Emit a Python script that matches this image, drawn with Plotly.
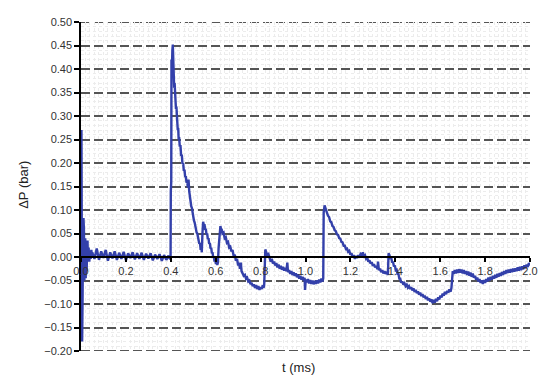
import plotly.graph_objects as go

# ---- data ----
t_ring = [0.002, 0.004, 0.005, 0.007, 0.009, 0.011, 0.013, 0.015, 0.017, 0.019, 0.021, 0.023,
          0.025, 0.027, 0.029, 0.031, 0.034, 0.037, 0.040, 0.043, 0.046, 0.049]
dp_ring = [0.270, 0.120, -0.180, -0.090, 0.030, 0.083, 0.060, -0.050, -0.010, 0.040, -0.045, 0.020,
           -0.030, 0.010, 0.035, -0.005, 0.020, -0.010, 0.012, -0.004, 0.015, 0.000]

t_base = [0.05, 0.06, 0.07, 0.08, 0.09, 0.10, 0.11, 0.12, 0.13, 0.14, 0.15, 0.16, 0.17, 0.18,
          0.19, 0.20, 0.21, 0.22, 0.23, 0.24, 0.25, 0.26, 0.27, 0.28, 0.29, 0.30, 0.31, 0.32,
          0.33, 0.34, 0.35, 0.36, 0.37, 0.38, 0.39, 0.397]
dp_base = [0.010, -0.004, 0.018, -0.006, 0.012, -0.002, 0.015, -0.008, 0.010, -0.003, 0.012,
           -0.006, 0.009, -0.004, 0.011, -0.007, 0.008, -0.002, 0.010, -0.005, 0.008, -0.004,
           0.009, -0.006, 0.007, -0.003, 0.008, -0.007, 0.005, -0.004, 0.006, -0.008, 0.004,
           -0.006, 0.003, -0.005]

t_peak = [0.399, 0.400, 0.402, 0.403, 0.405, 0.407, 0.409, 0.411, 0.413, 0.415, 0.417, 0.419,
          0.421, 0.423, 0.425, 0.427, 0.429, 0.431, 0.433, 0.435, 0.437, 0.440, 0.443, 0.446,
          0.449, 0.452, 0.455, 0.458, 0.461, 0.464, 0.467, 0.470, 0.473, 0.476, 0.479, 0.482,
          0.485, 0.488, 0.491, 0.494, 0.497, 0.500, 0.503, 0.506, 0.509, 0.512, 0.515, 0.518,
          0.521, 0.524, 0.527, 0.530, 0.533, 0.536, 0.538, 0.541, 0.544, 0.547, 0.550, 0.553,
          0.556, 0.559, 0.562, 0.565, 0.568, 0.571, 0.574, 0.577, 0.580, 0.583, 0.586, 0.589,
          0.592, 0.595, 0.598, 0.601, 0.604, 0.607, 0.610, 0.613, 0.617, 0.621, 0.624]
dp_peak = [0.000, 0.140, 0.160, 0.420, 0.400, 0.440, 0.452, 0.420, 0.380, 0.360, 0.370, 0.340,
           0.345, 0.315, 0.320, 0.295, 0.300, 0.270, 0.275, 0.250, 0.255, 0.235, 0.238, 0.215,
           0.218, 0.198, 0.200, 0.183, 0.186, 0.170, 0.172, 0.158, 0.160, 0.148, 0.165, 0.140,
           0.125, 0.118, 0.108, 0.104, 0.092, 0.088, 0.078, 0.074, 0.064, 0.062, 0.052, 0.050,
           0.040, 0.038, 0.028, 0.030, 0.015, 0.025, 0.010, 0.050, 0.075, 0.068, 0.070, 0.058,
           0.060, 0.048, 0.050, 0.038, 0.040, 0.028, 0.030, 0.018, 0.020, 0.008, 0.010, -0.002,
           0.000, -0.010, -0.006, -0.015, -0.010, -0.017, -0.012, 0.020, 0.045, 0.066, 0.058]

t_dip1 = [0.626, 0.630, 0.635, 0.640, 0.645, 0.650, 0.655, 0.660, 0.665, 0.670, 0.675, 0.680,
          0.685, 0.690, 0.695, 0.700, 0.704, 0.708, 0.712, 0.715, 0.720, 0.725, 0.730, 0.735,
          0.740, 0.745, 0.750, 0.755, 0.760, 0.765, 0.770, 0.775, 0.780, 0.785, 0.790, 0.795,
          0.800, 0.805, 0.810, 0.813]
dp_dip1 = [0.060, 0.050, 0.052, 0.040, 0.042, 0.030, 0.032, 0.020, 0.022, 0.012, 0.015, 0.002,
           0.005, -0.008, -0.004, -0.018, -0.012, -0.025, -0.012, -0.030, -0.034, -0.040, -0.038,
           -0.046, -0.044, -0.052, -0.050, -0.058, -0.055, -0.062, -0.058, -0.066, -0.060,
           -0.068, -0.062, -0.070, -0.064, -0.068, -0.060, -0.066]

t_step1 = [0.816, 0.818, 0.821, 0.825, 0.830, 0.835, 0.840, 0.845, 0.850, 0.855, 0.860, 0.865,
           0.870, 0.875, 0.880, 0.885, 0.890, 0.895, 0.900, 0.905, 0.910, 0.915, 0.919, 0.922,
           0.927, 0.932, 0.937, 0.942, 0.947, 0.952, 0.957, 0.962, 0.967, 0.972, 0.977, 0.982,
           0.987, 0.992, 0.996, 0.998, 1.001, 1.006, 1.011, 1.016, 1.021, 1.026, 1.031, 1.036,
           1.041, 1.046, 1.051, 1.056, 1.061, 1.066, 1.071, 1.076, 1.079]
dp_step1 = [-0.060, 0.005, 0.016, 0.010, 0.004, 0.006, -0.004, -0.010, -0.004, -0.014, -0.010,
            -0.018, -0.013, -0.022, -0.016, -0.025, -0.019, -0.027, -0.021, -0.029, -0.023,
            -0.030, -0.012, -0.032, -0.028, -0.036, -0.030, -0.038, -0.033, -0.040, -0.035,
            -0.043, -0.037, -0.046, -0.040, -0.048, -0.042, -0.050, -0.044, -0.070, -0.048,
            -0.054, -0.047, -0.056, -0.049, -0.057, -0.050, -0.058, -0.051, -0.057, -0.050,
            -0.056, -0.048, -0.054, -0.046, -0.052, -0.045]

t_peak2 = [1.081, 1.085, 1.090, 1.095, 1.100, 1.105, 1.110, 1.115, 1.120, 1.125, 1.130, 1.135,
           1.140, 1.145, 1.150, 1.155, 1.160, 1.165, 1.170, 1.175, 1.180, 1.185, 1.190, 1.195,
           1.200, 1.205, 1.210, 1.215, 1.220, 1.225, 1.230, 1.235, 1.240, 1.245, 1.250, 1.255,
           1.260, 1.265, 1.270, 1.275, 1.280, 1.285, 1.290, 1.295, 1.300, 1.305, 1.310, 1.315,
           1.320, 1.323, 1.327, 1.332, 1.337, 1.342, 1.347, 1.352, 1.357, 1.362, 1.367]
dp_peak2 = [0.095, 0.110, 0.100, 0.095, 0.088, 0.085, 0.076, 0.074, 0.066, 0.064, 0.057, 0.055,
            0.048, 0.047, 0.040, 0.039, 0.032, 0.031, 0.024, 0.024, 0.017, 0.018, 0.011, 0.013,
            0.005, 0.008, 0.000, 0.004, -0.004, 0.002, -0.002, 0.004, 0.000, 0.006, 0.003,
            0.010, 0.002, 0.004, -0.004, -0.002, -0.010, -0.007, -0.014, -0.011, -0.019,
            -0.015, -0.022, -0.019, -0.026, -0.010, -0.028, -0.025, -0.032, -0.028, -0.035,
            -0.030, -0.036, -0.031, -0.038]

t_tail = [1.370, 1.374, 1.378, 1.382, 1.386, 1.390, 1.394, 1.398, 1.402, 1.406, 1.410, 1.414,
          1.418, 1.422, 1.426, 1.431, 1.436, 1.441, 1.446, 1.451, 1.456, 1.461, 1.466, 1.471,
          1.476, 1.481, 1.486, 1.491, 1.496, 1.501, 1.506, 1.511, 1.516, 1.521, 1.526, 1.531,
          1.536, 1.541, 1.546, 1.551, 1.556, 1.561, 1.566, 1.571, 1.576, 1.581, 1.586, 1.591,
          1.596, 1.601, 1.606, 1.611, 1.616, 1.621, 1.626, 1.631, 1.636, 1.641, 1.646, 1.650,
          1.653, 1.656, 1.660, 1.665, 1.670, 1.675, 1.680, 1.685, 1.690, 1.695, 1.700, 1.705,
          1.710, 1.715, 1.720, 1.725, 1.730, 1.735, 1.740, 1.745, 1.750, 1.755, 1.760, 1.765,
          1.770, 1.775, 1.780, 1.785, 1.790, 1.795, 1.800, 1.805, 1.810, 1.815, 1.820, 1.825,
          1.830, 1.835, 1.840, 1.845, 1.850, 1.855, 1.860, 1.865, 1.870, 1.875, 1.880, 1.885,
          1.890, 1.895, 1.900, 1.905, 1.910, 1.915, 1.920, 1.925, 1.930, 1.935, 1.940, 1.945,
          1.950, 1.955, 1.960, 1.965, 1.970, 1.975, 1.980, 1.985, 1.990, 1.995, 2.000]
dp_tail = [0.008, 0.004, -0.004, -0.002, -0.012, -0.010, -0.020, -0.018, -0.028, -0.027, -0.036,
           -0.036, -0.046, -0.046, -0.055, -0.052, -0.059, -0.056, -0.062, -0.059, -0.065,
           -0.062, -0.068, -0.064, -0.071, -0.067, -0.074, -0.070, -0.077, -0.073, -0.080,
           -0.076, -0.083, -0.079, -0.086, -0.082, -0.089, -0.085, -0.092, -0.088, -0.095,
           -0.090, -0.098, -0.091, -0.097, -0.089, -0.094, -0.086, -0.090, -0.082, -0.086,
           -0.078, -0.082, -0.074, -0.079, -0.072, -0.076, -0.069, -0.074, -0.066, -0.050,
           -0.030, -0.036, -0.028, -0.035, -0.027, -0.034, -0.026, -0.033, -0.027, -0.035,
           -0.028, -0.036, -0.030, -0.038, -0.031, -0.040, -0.033, -0.042, -0.035, -0.044,
           -0.040, -0.048, -0.044, -0.052, -0.047, -0.055, -0.050, -0.057, -0.049, -0.055,
           -0.047, -0.052, -0.044, -0.050, -0.042, -0.048, -0.040, -0.046, -0.038, -0.044,
           -0.036, -0.042, -0.034, -0.040, -0.032, -0.038, -0.030, -0.036, -0.028, -0.034,
           -0.027, -0.033, -0.026, -0.032, -0.025, -0.031, -0.024, -0.030, -0.022, -0.029,
           -0.021, -0.028, -0.020, -0.026, -0.018, -0.024, -0.016, -0.021, -0.013, -0.018]

t_ms = t_ring + t_base + t_peak + t_dip1 + t_step1 + t_peak2 + t_tail
dp_bar = dp_ring + dp_base + dp_peak + dp_dip1 + dp_step1 + dp_peak2 + dp_tail

y_range = [-0.20, 0.50]
x_range = [0.0, 2.0]

grid_dash = "9px,4px"
grid_color = "#555"

fig = go.Figure()
fig.add_trace(go.Scatter(x=t_ms, y=dp_bar, mode="lines",
                         line=dict(color="#3340aa", width=2.4), showlegend=False))

font = dict(family="Arial, Liberation Sans, sans-serif", size=11, color="#333")

# dashed gridlines at the two range ends (plotly clips gridlines lying on the edges)
edge_lines = [dict(type="line", xref="paper", x0=0, x1=1, yref="y", y0=v, y1=v,
                   layer="below", line=dict(color=grid_color, width=2, dash=grid_dash))
              for v in y_range]

fig.update_layout(
    width=542, height=377,
    margin=dict(l=81, r=4, t=22, b=26),
    plot_bgcolor="white", paper_bgcolor="white",
    font=font,
    shapes=edge_lines,
    yaxis=dict(range=y_range, tick0=0, dtick=0.05, tickformat=".2f",
               showline=True, linecolor="black", linewidth=1.5,
               ticks="outside", ticklen=5, tickcolor="black", tickwidth=1.5,
               showgrid=True, gridcolor=grid_color, gridwidth=2, griddash=grid_dash,
               zeroline=False, tickfont=font,
               minor=dict(dtick=0.01, showgrid=True, gridcolor="#ececec",
                          griddash="dot", gridwidth=1)),
    xaxis=dict(range=x_range, tick0=0, dtick=0.2, tickformat=".1f",
               showline=True, linecolor="black", linewidth=1.5,
               anchor="free", position=(0 - y_range[0]) / (y_range[1] - y_range[0]),
               ticks="outside", ticklen=4, tickcolor="black", tickwidth=1.5,
               ticklabeloverflow="allow",
               showgrid=False, zeroline=False, tickfont=font,
               minor=dict(dtick=0.02, showgrid=True, gridcolor="#ececec",
                          griddash="dot", gridwidth=1)),
    annotations=[
        dict(text="ΔP (bar)", xref="paper", yref="paper", x=-0.127, y=0.505,
             textangle=-90, showarrow=False, xanchor="center", yanchor="middle",
             font=dict(family="Arial, Liberation Sans, sans-serif", size=13, color="#222")),
        dict(text="t (ms)", xref="paper", yref="paper", x=0.484, y=-0.049,
             showarrow=False, xanchor="center", yanchor="middle",
             font=dict(family="Arial, Liberation Sans, sans-serif", size=13, color="#222")),
    ],
)

fig.write_html("out.html")
